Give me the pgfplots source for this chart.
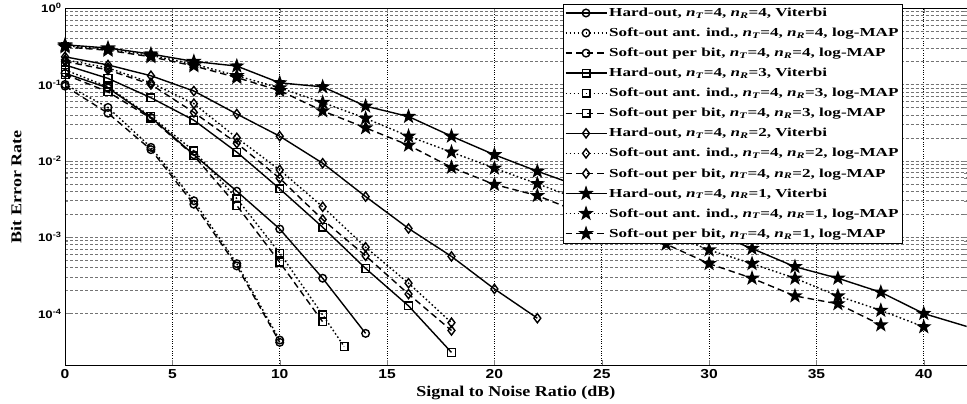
\documentclass[border=0pt]{standalone}
\usepackage{fontspec}
\setmainfont{Liberation Serif}[FakeStretch=1.2]
\setsansfont{Liberation Sans}[FakeStretch=1.2]
\newfontfamily\legfont{Liberation Serif}[FakeStretch=1.4]
\usepackage{pgfplots}
\pgfplotsset{compat=1.18}

% filled five-pointed star, like MATLAB's 'p' marker
\pgfdeclareplotmark{pstar}{%
  \pgfpathmoveto{\pgfpointpolar{90}{\pgfplotmarksize}}%
  \pgfpathlineto{\pgfpointpolar{126}{0.4*\pgfplotmarksize}}%
  \pgfpathlineto{\pgfpointpolar{162}{\pgfplotmarksize}}%
  \pgfpathlineto{\pgfpointpolar{198}{0.4*\pgfplotmarksize}}%
  \pgfpathlineto{\pgfpointpolar{234}{\pgfplotmarksize}}%
  \pgfpathlineto{\pgfpointpolar{270}{0.4*\pgfplotmarksize}}%
  \pgfpathlineto{\pgfpointpolar{306}{\pgfplotmarksize}}%
  \pgfpathlineto{\pgfpointpolar{342}{0.4*\pgfplotmarksize}}%
  \pgfpathlineto{\pgfpointpolar{18}{\pgfplotmarksize}}%
  \pgfpathlineto{\pgfpointpolar{54}{0.4*\pgfplotmarksize}}%
  \pgfpathclose
  \pgfusepathqfillstroke}

\newcommand{\nT}{\textit{n}\textsubscript{\textit{T}}}
\newcommand{\nR}{\textit{n}\textsubscript{\textit{R}}}

\pgfplotsset{
  hard/.style={solid},
  ant/.style={dash pattern=on 1.6pt off 2.4pt},
  pbit/.style={dash pattern=on 6.5pt off 4pt},
  mcirc/.style={mark=o, mark size=3.8pt, mark options={solid}},
  msq/.style={mark=square, mark size=3.8pt, mark options={solid}},
  mdia/.style={mark=diamond, mark size=4.6pt, mark options={solid}},
  mstar/.style={mark=pstar, mark size=6pt, mark options={solid, fill=black}},
}

\begin{document}
\begin{tikzpicture}
\begin{axis}[
  scale only axis,
  width=901pt, height=357pt,
  ymode=log,
  xmin=0, xmax=42, ymin=2.1e-5, ymax=1,
  xtick={0,5,...,40},
  xticklabels={0,5,10,15,20,25,30,35,40},
  ytick={1e-4,1e-3,1e-2,1e-1,1},
  yticklabels={10\textsuperscript{-4},10\textsuperscript{-3},10\textsuperscript{-2},10\textsuperscript{-1},10\textsuperscript{0}},
  xticklabel style={font=\sffamily\bfseries\fontsize{13}{14}\selectfont, yshift=-1pt},
  yticklabel style={font=\sffamily\bfseries\fontsize{11}{12}\selectfont},
  tick align=inside,
  major tick length=5pt, minor tick length=3pt,
  xmajorgrids, ymajorgrids, yminorgrids,
  x grid style={dotted, black, line width=0.6pt},
  y grid style={dash pattern=on 3pt off 2pt, black!55, line width=0.6pt},
  xlabel={Signal to Noise Ratio (dB)},
  ylabel={Bit Error Rate},
  label style={font=\bfseries\fontsize{15}{16}\selectfont},
  xlabel shift=0pt,
  ylabel style={inner sep=11pt},
  ylabel shift=2pt,
  every axis plot/.append style={black, line width=1.4pt},
  legend style={at={(rel axis cs:0.929,1.012)}, anchor=north east,
    draw=black, fill=white, font=\legfont\bfseries\fontsize{12.2}{13}\selectfont,
    row sep=6pt, inner sep=2pt},
  legend cell align=left,
  legend image code/.code={\draw[mark repeat=2, mark phase=2, #1]
    plot coordinates {(0cm,0cm) (0.72cm,0cm) (1.44cm,0cm)};},
]
% n_R = 4
\addplot[hard, mcirc] coordinates {(0,0.14) (2,0.09) (4,0.037) (6,0.012) (8,0.004) (10,0.00128) (12,0.00029) (14,5.5e-5)};
\addlegendentry{Hard-out, \nT=4, \nR=4, Viterbi}
\addplot[ant, mcirc] coordinates {(0,0.1) (2,0.05) (4,0.015) (6,0.003) (8,0.00045) (10,4.5e-5)};
\addlegendentry{Soft-out ant. ind., \nT=4, \nR=4, log-MAP}
\addplot[pbit, mcirc] coordinates {(0,0.095) (2,0.042) (4,0.014) (6,0.0027) (8,0.00042) (10,4.2e-5)};
\addlegendentry{Soft-out per bit, \nT=4, \nR=4, log-MAP}
% n_R = 3
\addplot[hard, msq] coordinates {(0,0.18) (2,0.12) (4,0.067) (6,0.034) (8,0.013) (10,0.0043) (12,0.00135) (14,0.00039) (16,0.000126) (18,3.1e-5)};
\addlegendentry{Hard-out, \nT=4, \nR=3, Viterbi}
\addplot[ant, msq] coordinates {(0,0.155) (2,0.093) (4,0.038) (6,0.0135) (8,0.0032) (10,0.00062) (12,9.6e-5) (13,3.7e-5)};
\addlegendentry{Soft-out ant. ind., \nT=4, \nR=3, log-MAP}
\addplot[pbit, msq] coordinates {(0,0.135) (2,0.08) (4,0.036) (6,0.0117) (8,0.0026) (10,0.00047) (12,7.8e-5)};
\addlegendentry{Soft-out per bit, \nT=4, \nR=3, log-MAP}
% n_R = 2
\addplot[hard, mdia] coordinates {(0,0.23) (2,0.18) (4,0.13) (6,0.082) (8,0.041) (10,0.021) (12,0.0093) (14,0.0034) (16,0.0013) (18,0.00056) (20,0.00021) (22,8.7e-5)};
\addlegendentry{Hard-out, \nT=4, \nR=2, Viterbi}
\addplot[ant, mdia] coordinates {(0,0.21) (2,0.165) (4,0.105) (6,0.056) (8,0.02) (10,0.0076) (12,0.0025) (14,0.00074) (16,0.00025) (18,7.6e-5)};
\addlegendentry{Soft-out ant. ind., \nT=4, \nR=2, log-MAP}
\addplot[pbit, mdia] coordinates {(0,0.2) (2,0.155) (4,0.1) (6,0.043) (8,0.017) (10,0.0059) (12,0.0017) (14,0.00057) (16,0.00018) (18,6e-5)};
\addlegendentry{Soft-out per bit, \nT=4, \nR=2, log-MAP}
% n_R = 1
\addplot[hard, mstar] coordinates {(0,0.33) (2,0.3) (4,0.25) (6,0.2) (8,0.174) (10,0.105) (12,0.093) (14,0.052) (16,0.038) (18,0.021) (20,0.012) (22,0.0073) (24,0.0046) (26,0.0029) (28,0.0019) (30,0.0012) (32,0.00071) (34,0.00041) (36,0.00029) (38,0.00019) (40,0.0001) (44,4.6e-5)};
\addlegendentry{Hard-out, \nT=4, \nR=1, Viterbi}
\addplot[ant, mstar] coordinates {(0,0.32) (2,0.29) (4,0.24) (6,0.185) (8,0.13) (10,0.09) (12,0.058) (14,0.036) (16,0.021) (18,0.013) (20,0.008) (22,0.005) (24,0.0031) (26,0.0019) (28,0.00115) (30,0.00068) (32,0.00045) (34,0.00029) (36,0.00017) (38,0.00011) (40,6.7e-5)};
\addlegendentry{Soft-out ant. ind., \nT=4, \nR=1, log-MAP}
\addplot[pbit, mstar] coordinates {(0,0.31) (2,0.28) (4,0.23) (6,0.175) (8,0.123) (10,0.083) (12,0.045) (14,0.027) (16,0.016) (18,0.0082) (20,0.0049) (22,0.0035) (24,0.0021) (26,0.0013) (28,0.00081) (30,0.00045) (32,0.00029) (34,0.00017) (36,0.000134) (38,7.1e-5)};
\addlegendentry{Soft-out per bit, \nT=4, \nR=1, log-MAP}
\end{axis}
\end{tikzpicture}
\end{document}
